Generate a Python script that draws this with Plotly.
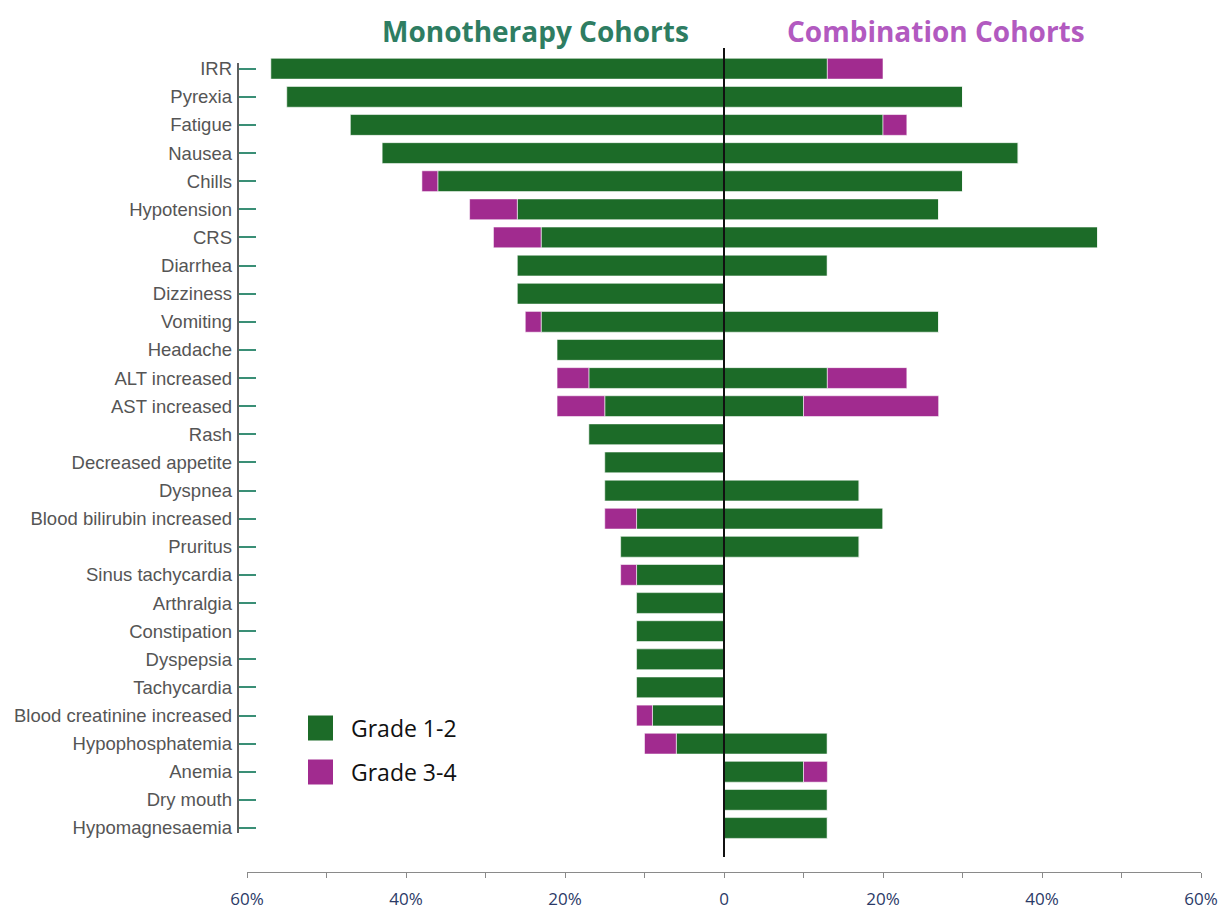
import plotly.graph_objects as go

categories = ["IRR", "Pyrexia", "Fatigue", "Nausea", "Chills", "Hypotension", "CRS",
              "Diarrhea", "Dizziness", "Vomiting", "Headache", "ALT increased",
              "AST increased", "Rash", "Decreased appetite", "Dyspnea",
              "Blood bilirubin increased", "Pruritus", "Sinus tachycardia", "Arthralgia",
              "Constipation", "Dyspepsia", "Tachycardia", "Blood creatinine increased",
              "Hypophosphatemia", "Anemia", "Dry mouth", "Hypomagnesaemia"]

mono_g12 = [57, 55, 47, 43, 36, 26, 23, 26, 26, 23, 21, 17, 15, 17, 15, 15, 11, 13, 11, 11, 11, 11, 11, 9, 6, 0, 0, 0]
mono_g34 = [0, 0, 0, 0, 2, 6, 6, 0, 0, 2, 0, 4, 6, 0, 0, 0, 4, 0, 2, 0, 0, 0, 0, 2, 4, 0, 0, 0]
combo_g12 = [13, 30, 20, 37, 30, 27, 47, 13, 0, 27, 0, 13, 10, 0, 0, 17, 20, 17, 0, 0, 0, 0, 0, 0, 13, 10, 13, 13]
combo_g34 = [7, 0, 3, 0, 0, 0, 0, 0, 0, 0, 0, 10, 17, 0, 0, 0, 0, 0, 0, 0, 0, 0, 0, 0, 0, 3, 0, 0]

tick_vals = [-60, -40, -20, 0, 20, 40, 60]
tick_text = ["60%", "40%", "20%", "0", "20%", "40%", "60%"]
legend_names = ["Grade 1-2", "Grade 3-4"]

GREEN = "#1c6b28"
PURPLE = "#a12b8f"
colors = [GREEN, PURPLE]

fig = go.Figure()
bw = 0.74
line = dict(color="rgba(255,255,255,0.7)", width=0.8)
fig.add_trace(go.Bar(y=categories, x=[-v for v in mono_g12], orientation="h", width=bw,
                     marker=dict(color=GREEN, line=line), name=legend_names[0], showlegend=False))
fig.add_trace(go.Bar(y=categories, x=[-v for v in mono_g34], orientation="h", width=bw,
                     marker=dict(color=PURPLE, line=line), name=legend_names[1], showlegend=False))
fig.add_trace(go.Bar(y=categories, x=combo_g12, orientation="h", width=bw,
                     marker=dict(color=GREEN, line=line), name=legend_names[0], showlegend=False))
fig.add_trace(go.Bar(y=categories, x=combo_g34, orientation="h", width=bw,
                     marker=dict(color=PURPLE, line=line), name=legend_names[1], showlegend=False))

H = 910
W = 1227
OFF = 8  # page body offset in the rendered screenshot
# reference pixel positions
REF_TOP, REF_BOTTOM, REF_LEFT, REF_RIGHT = 40, 872, 238, 1201
mt = REF_TOP - OFF
mb = H - (REF_BOTTOM - OFF)
ml = REF_LEFT - OFF
mr = W - (REF_RIGHT - OFF)
ph = REF_BOTTOM - REF_TOP
pw = REF_RIGHT - REF_LEFT

def py(ypix):
    return (REF_BOTTOM - ypix) / ph

def px(xpix):
    return (xpix - REF_LEFT) / pw

shapes = []
# zero line
shapes.append(dict(type="line", xref="x", yref="paper", x0=0, x1=0, y0=py(857), y1=py(48),
                   line=dict(color="#111111", width=2)))
# category axis bracket line
shapes.append(dict(type="line", xref="paper", yref="paper", x0=0, x1=0, y0=py(833), y1=py(63),
                   line=dict(color="#5f5f5f", width=2)))

annotations = [
    dict(text="<b>Monotherapy Cohorts</b>", xref="paper", yref="paper", x=px(535), y=py(31),
         showarrow=False, xanchor="center", yanchor="middle",
         font=dict(family="Open Sans", size=28, color="#2e7d62")),
    dict(text="<b>Combination Cohorts</b>", xref="paper", yref="paper", x=px(936), y=py(31),
         showarrow=False, xanchor="center", yanchor="middle",
         font=dict(family="Open Sans", size=28, color="#b25ac0")),
]

# manual legend
leg_y = [728, 772]
for name, col, yc in zip(legend_names, colors, leg_y):
    shapes.append(dict(type="rect", xref="paper", yref="paper",
                       x0=px(308), x1=px(333), y0=py(yc + 12.5), y1=py(yc - 12.5),
                       fillcolor=col, line=dict(width=0)))
    annotations.append(dict(text=name, xref="paper", yref="paper", x=px(349), y=py(yc),
                            showarrow=False, xanchor="left", yanchor="middle",
                            font=dict(family="Open Sans", size=23, color="#111111")))

fig.update_layout(
    width=W, height=H,
    margin=dict(l=ml, r=mr, t=mt, b=mb, autoexpand=False),
    barmode="relative",
    plot_bgcolor="white",
    paper_bgcolor="white",
    showlegend=False,
    shapes=shapes,
    annotations=annotations,
    xaxis=dict(domain=[px(247), 1], range=[-60, 60], tickvals=tick_vals, ticktext=tick_text,
               showgrid=False, zeroline=False, showline=True, linecolor="#8a8a8a", linewidth=1,
               ticks="outside", ticklen=5, tickcolor="#8a8a8a",
               minor=dict(dtick=10, tick0=0, ticks="outside", ticklen=5, tickcolor="#8a8a8a", showgrid=False),
               tickfont=dict(family="Open Sans", size=17, color="#2b3a67"),
               ticklabelstandoff=7, fixedrange=True),
    yaxis=dict(anchor="free", position=0, categoryorder="array", categoryarray=categories,
               range=[27 + (REF_BOTTOM - 828) / 28.12, -(68.7 - REF_TOP) / 28.12],
               showgrid=False, zeroline=False, showline=False,
               ticks="inside", ticklen=17, tickcolor="#3a8f76", tickwidth=1.5,
               tickfont=dict(family="Liberation Sans", size=18.5, color="#555555"),
               ticklabelstandoff=6),
)

fig.write_html("out.html")
